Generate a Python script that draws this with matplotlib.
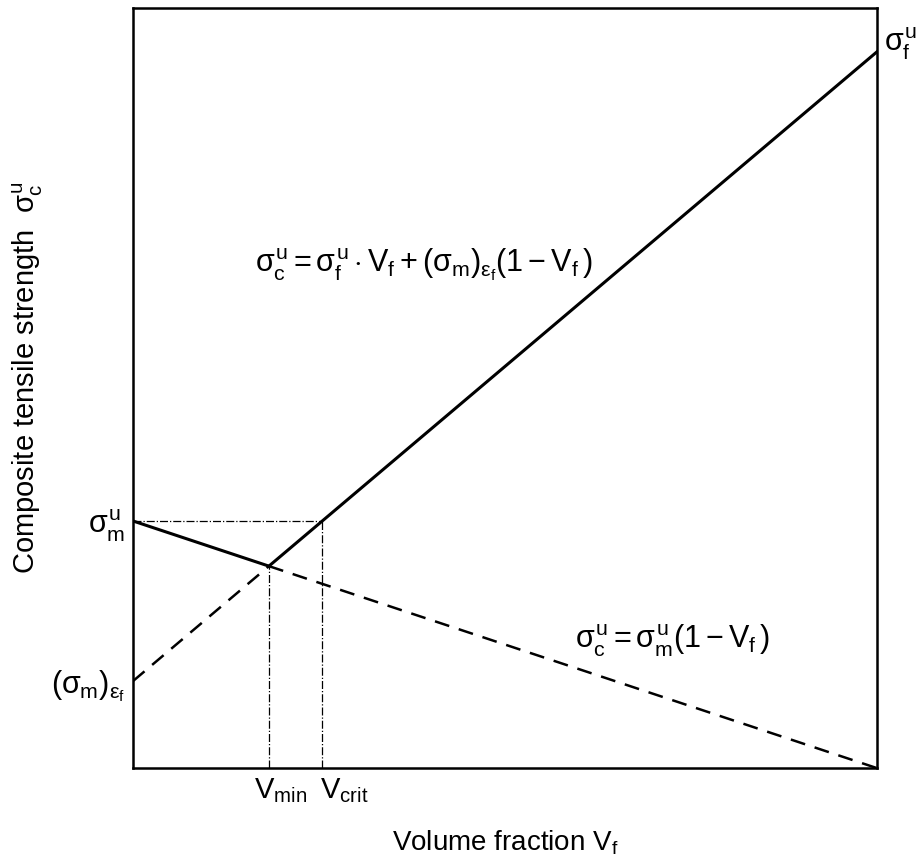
import numpy as np
import matplotlib
matplotlib.use("Agg")
import matplotlib.pyplot as plt
from matplotlib.transforms import ScaledTranslation

plt.rcParams['font.family'] = ['Liberation Sans', 'DejaVu Sans']
plt.rcParams['mathtext.fontset'] = 'custom'
plt.rcParams['mathtext.rm'] = 'Liberation Sans'
plt.rcParams['mathtext.it'] = 'Liberation Sans'
plt.rcParams['mathtext.bf'] = 'Liberation Sans:bold'

# strengths (arbitrary units)
sig_f = 0.942        # fibre strength at Vf = 1
sig_m = 0.325        # matrix strength at Vf = 0
sig_m_eps = 0.1145   # matrix stress at fibre failure strain

v_min = (sig_m - sig_m_eps) / (sig_m - sig_m_eps + sig_f)
v_crit = (sig_m - sig_m_eps) / (sig_f - sig_m_eps)
y_min = sig_m * (1 - v_min)

xtick_pos = [v_min, v_crit]
xtick_labels = [r'$\mathregular{V_{min}}$', r'$\mathregular{V_{crit}}$']
ytick_pos = [sig_m_eps, sig_m]
ytick_labels = [r'$(\sigma_m)_{\varepsilon_f}$', r'$\sigma_m^u$']

fig = plt.figure(figsize=(9.24, 8.64), dpi=100)
ax = fig.add_axes([0.144, 0.111, 0.805, 0.880])

# matrix-dominated line
ax.plot([0, v_min], [sig_m, y_min], color='black', lw=2.2)
ax.plot([v_min, 1], [y_min, 0], color='black', lw=1.8, dashes=(6, 4))

# fibre-dominated line
def comp(v):
    return sig_f * v + sig_m_eps * (1 - v)

ax.plot([0, v_min], [sig_m_eps, comp(v_min)], color='black', lw=1.8, dashes=(6, 4))
ax.plot([v_min, 1], [comp(v_min), sig_f], color='black', lw=2.2)

# dash-dot guides
ax.plot([0, v_crit], [sig_m, sig_m], color='black', lw=0.9, ls='-.')
ax.plot([v_crit, v_crit], [0, sig_m], color='black', lw=0.9, ls='-.')
ax.plot([v_min, v_min], [0, y_min], color='black', lw=0.9, ls='-.')

ax.set_xlim(0, 1)
ax.set_ylim(0, 1)
ax.set_xticks(xtick_pos)
ax.set_xticklabels(xtick_labels, fontsize=21)
ax.set_yticks(ytick_pos)
ax.set_yticklabels(ytick_labels, fontsize=22)
ax.tick_params(length=0, pad=6)
for s in ax.spines.values():
    s.set_linewidth(1.8)

# shift the V labels so they start near their guide lines
for lab, dx in zip(ax.get_xticklabels(), [-0.15, -0.02]):
    lab.set_horizontalalignment('left')
    lab.set_transform(lab.get_transform() + ScaledTranslation(dx, 0, fig.dpi_scale_trans))

ax.text(1.01, sig_f + 0.01, r'$\sigma_f^u$', fontsize=22, ha='left', va='center',
        transform=ax.transData, clip_on=False)

ax.text(0.164, 0.662, r'$\sigma_c^u = \sigma_f^u \cdot V_f + (\sigma_m)_{\varepsilon_f}(1 - V_f\,)$',
        fontsize=22, ha='left', va='center')
ax.text(0.594, 0.168, r'$\sigma_c^u = \sigma_m^u(1 - V_f\,)$',
        fontsize=22, ha='left', va='center')

ax.set_xlabel(r'Volume fraction V$_\mathregular{f}$', fontsize=20)
ax.set_ylabel(r'Composite tensile strength  $\sigma_c^u$', fontsize=21)
ax.xaxis.set_label_coords(0.5, -0.08)
ax.yaxis.set_label_coords(-0.118, 0.513)

fig.savefig('out.png', dpi=100)
